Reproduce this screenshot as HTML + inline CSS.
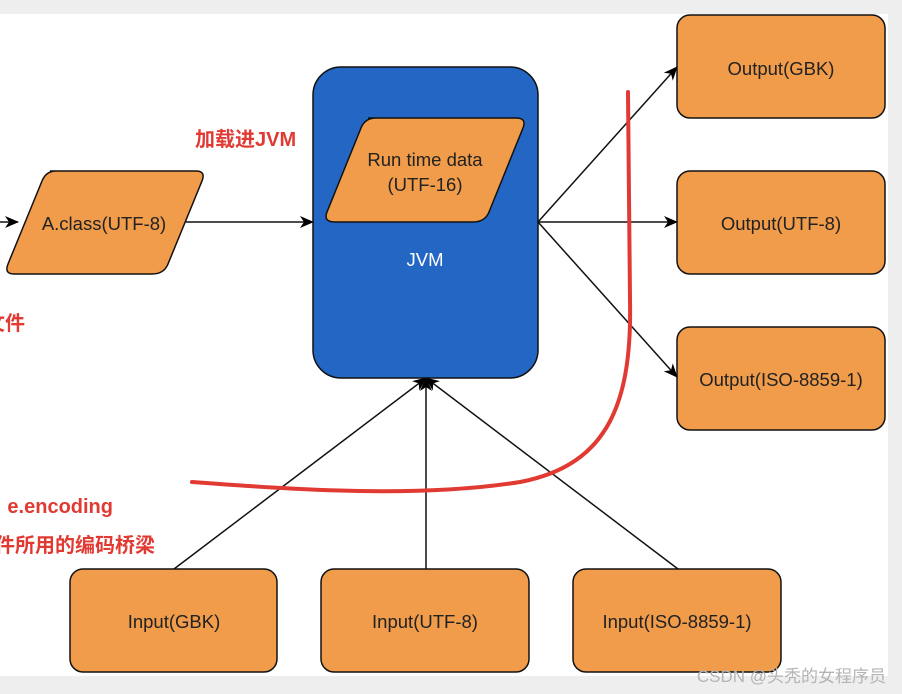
<!DOCTYPE html>
<html><head><meta charset="utf-8"><style>
html,body{margin:0;padding:0;width:902px;height:694px;overflow:hidden;background:#f2f2f2}
</style></head><body>
<svg width="902" height="694" xmlns="http://www.w3.org/2000/svg" style="position:absolute;left:0;top:0">
<defs>
<marker id="ar" markerWidth="14" markerHeight="12" refX="13" refY="6" orient="auto" markerUnits="userSpaceOnUse">
<path d="M0,0 L14,6 L0,12 L4,6 Z" fill="#000"/>
</marker>
</defs>
<rect x="0" y="0" width="902" height="694" fill="#eeeeee"/>
<rect x="0" y="14" width="888" height="662" fill="#ffffff"/>
<g font-family="Liberation Sans, sans-serif" font-size="18.5" fill="#222" text-anchor="middle">
<g stroke="#111" stroke-width="1.5" fill="none">
<line x1="0" y1="222" x2="18" y2="222" marker-end="url(#ar)"/>
<line x1="186" y1="222" x2="313" y2="222" marker-end="url(#ar)"/>
<line x1="538" y1="222" x2="677" y2="67" marker-end="url(#ar)"/>
<line x1="538" y1="222" x2="677" y2="222" marker-end="url(#ar)"/>
<line x1="538" y1="222" x2="677" y2="377" marker-end="url(#ar)"/>
<line x1="174" y1="569" x2="426" y2="378" marker-end="url(#ar)"/>
<line x1="426" y1="569" x2="426" y2="378" marker-end="url(#ar)"/>
<line x1="678" y1="569" x2="426" y2="378" marker-end="url(#ar)"/>
</g>
<path d="M50,171 L196,171 Q206,171 202,181 L168,264 Q164,274 152,274 L14,274 Q4,274 8,264 L42,181 Q46,171 56,171 Z" fill="#f09c4a" stroke="#111" stroke-width="1.5"/>
<text x="104" y="230">A.class(UTF-8)</text>
<rect x="313" y="67" width="225" height="311" rx="28" fill="#2466c4" stroke="#111" stroke-width="1.5"/>
<text x="425" y="266" fill="#fff">JVM</text>
<path d="M368,118 L516,118 Q527,118 523,128 L489,212 Q485,222 473,222 L335,222 Q323,222 327,212 L361,128 Q365,118 376,118 Z" fill="#f09c4a" stroke="#111" stroke-width="1.5"/>
<text x="425" y="166">Run time data</text>
<text x="425" y="191">(UTF-16)</text>
<g fill="#f09c4a" stroke="#111" stroke-width="1.5">
<rect x="677" y="15" width="208" height="103" rx="13"/>
<rect x="677" y="171" width="208" height="103" rx="13"/>
<rect x="677" y="327" width="208" height="103" rx="13"/>
<rect x="70" y="569" width="207" height="103" rx="13"/>
<rect x="321" y="569" width="208" height="103" rx="13"/>
<rect x="573" y="569" width="208" height="103" rx="13"/>
</g>
<text x="781" y="75">Output(GBK)</text>
<text x="781" y="230">Output(UTF-8)</text>
<text x="781" y="386">Output(ISO-8859-1)</text>
<text x="174" y="628">Input(GBK)</text>
<text x="425" y="628">Input(UTF-8)</text>
<text x="677" y="628">Input(ISO-8859-1)</text>
</g>
<path d="M192,482 C300,490 420,498 520,482 C610,465 632,400 630,300 L628,92" fill="none" stroke="#e03a33" stroke-width="4" stroke-linecap="round"/>
<g font-family="Liberation Sans, 'Noto Sans CJK SC', sans-serif" font-size="20" font-weight="bold" fill="#e03a33">
<text x="195" y="146">加载进JVM</text>
<text x="25" y="330" text-anchor="end">文件</text>
<text x="113" y="513" text-anchor="end">e.encoding</text>
<text x="155" y="552" text-anchor="end">文件所用的编码桥梁</text>
</g>
<text x="886" y="682" text-anchor="end" font-family="Liberation Sans, 'Noto Sans CJK SC', sans-serif" font-size="17" fill="#b4b4b4">CSDN @头秃的女程序员</text>
</svg>
</body></html>
